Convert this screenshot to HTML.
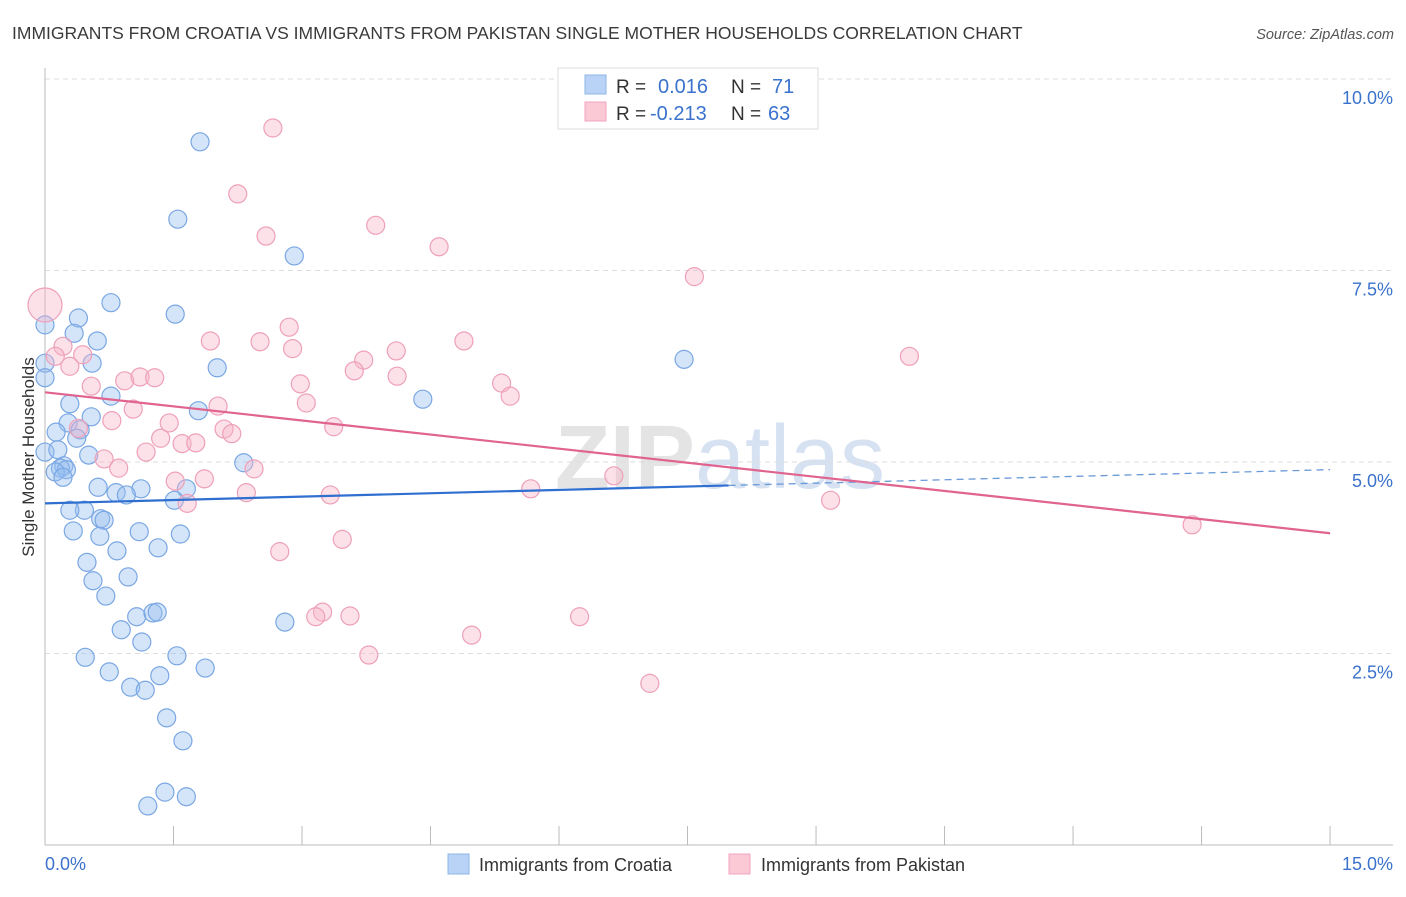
<!DOCTYPE html>
<html><head><meta charset="utf-8"><style>
html,body{margin:0;padding:0;background:#fff;}
body{width:1406px;height:892px;overflow:hidden;font-family:"Liberation Sans",sans-serif;}
</style></head><body>
<svg id="chart" width="1406" height="892" xmlns="http://www.w3.org/2000/svg" font-family="Liberation Sans, sans-serif">
<text x="12" y="39" font-size="17.5" fill="#3a3a3a">IMMIGRANTS FROM CROATIA VS IMMIGRANTS FROM PAKISTAN SINGLE MOTHER HOUSEHOLDS CORRELATION CHART</text>
<text x="1394" y="39" font-size="14.5" fill="#555" font-style="italic" text-anchor="end">Source: ZipAtlas.com</text>
<text x="720" y="488" font-size="90" fill="#e4e4e4" text-anchor="middle" font-weight="bold">ZIP<tspan fill="#d6e2f2" font-weight="normal">atlas</tspan></text>
<g id="grid"></g>
<g id="axes"></g>
<g id="marks"></g>
<g id="trends"></g>
<text transform="translate(34,457) rotate(-90)" font-size="17" fill="#333" text-anchor="middle">Single Mother Households</text>
<g>
<rect x="558" y="68" width="260" height="61" fill="#fff" stroke="#ddd"/>
<rect x="585" y="75" width="21" height="19" fill="#b8d3f5" stroke="#8fb4e8"/>
<rect x="585" y="102" width="21" height="19" fill="#fbc8d6" stroke="#f0a5bd"/>
<text x="616" y="93" font-size="19" fill="#333">R = </text><text x="658" y="93" font-size="20" fill="#3a72cc">0.016</text>
<text x="731" y="93" font-size="19" fill="#333">N = </text><text x="772" y="93" font-size="20" fill="#3a72cc">71</text>
<text x="616" y="120" font-size="19" fill="#333">R = </text><text x="650" y="120" font-size="20" fill="#3a72cc">-0.213</text>
<text x="731" y="120" font-size="19" fill="#333">N = </text><text x="768" y="120" font-size="20" fill="#3a72cc">63</text>
</g>
<g>
<rect x="448" y="854" width="21" height="20" fill="#b8d3f5" stroke="#8fb4e8"/>
<text x="479" y="871" font-size="18" fill="#333">Immigrants from Croatia</text>
<rect x="729" y="854" width="21" height="20" fill="#fbc8d6" stroke="#f0a5bd"/>
<text x="761" y="871" font-size="18" fill="#333">Immigrants from Pakistan</text>
</g>
</svg>
<script>
const blueX=[1.81,1.55,2.91,0.77,1.52,0.39,0,0.34,0.61,0.55,0,2.01,0,7.46,4.41,0.77,0.29,1.79,0.54,0.27,0.41,0.13,0.37,0,0.15,0.51,0.22,0.18,0.25,0.12,0.21,2.32,0.62,1.65,0.83,1.12,0.95,1.51,0.46,0.29,0.65,0.69,0.33,0.64,1.10,1.58,0.84,1.32,0.49,0.97,0.56,0.71,1.07,1.26,1.31,0.89,1.13,2.80,0.47,1.54,0.75,1.34,1.87,1.00,1.17,1.42,1.61,1.40,1.65,1.20];
const blueY=[9.18,8.17,7.69,7.08,6.93,6.88,6.79,6.68,6.58,6.29,6.29,6.23,6.10,6.34,5.82,5.86,5.76,5.67,5.59,5.51,5.42,5.39,5.31,5.13,5.16,5.09,4.95,4.92,4.90,4.87,4.80,4.99,4.67,4.65,4.60,4.65,4.57,4.50,4.37,4.37,4.26,4.24,4.10,4.03,4.09,4.06,3.84,3.88,3.69,3.50,3.45,3.25,2.98,3.03,3.04,2.81,2.65,2.91,2.45,2.47,2.26,2.21,2.31,2.06,2.02,1.66,1.36,0.69,0.63,0.51];
const pinkX=[2.66,2.25,2.58,3.86,4.60,7.58,0,2.85,1.93,2.51,0.21,2.89,4.10,4.89,0.44,0.12,0.29,10.09,3.72,3.61,2.98,0.54,0.93,1.11,1.28,5.33,4.11,5.43,3.05,2.02,1.03,0.78,1.45,0.39,3.37,2.09,2.18,1.35,1.60,1.76,1.18,0.69,0.86,2.44,1.52,1.86,1.66,2.35,3.33,5.67,6.64,9.17,13.39,2.74,3.47,3.24,3.16,3.56,6.24,4.98,3.78,7.06];
const pinkY=[9.36,8.50,7.95,8.09,7.81,7.42,7.05,6.76,6.58,6.57,6.51,6.48,6.45,6.58,6.40,6.38,6.25,6.38,6.33,6.19,6.02,5.99,6.06,6.11,6.10,6.03,6.12,5.86,5.77,5.73,5.69,5.54,5.51,5.44,5.46,5.43,5.37,5.31,5.24,5.25,5.13,5.04,4.92,4.91,4.75,4.78,4.46,4.60,4.57,4.65,4.82,4.50,4.18,3.83,3.99,3.04,2.98,2.99,2.98,2.74,2.48,2.11];
const pinkSize=[9,9,9,9,9,9,17,9,9,9,9,9,9,9,9,9,9,9,9,9,9,9,9,9,9,9,9,9,9,9,9,9,9,9,9,9,9,9,9,9,9,9,9,9,9,9,9,9,9,9,9,9,9,9,9,9,9,9,9,9,9,9];
const yTicks=[2.5,5.0,7.5,10.0];
const yTickLabels=["2.5%","5.0%","7.5%","10.0%"];
const xTicks=[0,1.5,3,4.5,6,7.5,9,10.5,12,13.5,15];
const blueTrend=[4.46,4.90]; // y at x=0 and x=15
const blueSolidEnd=7.98;
const pinkTrend=[5.91,4.07];

const NS="http://www.w3.org/2000/svg";
const X=v=>45+v*85.67, Y=v=>845-v*76.6;
function mk(tag,attrs,parent){const e=document.createElementNS(NS,tag);for(const k in attrs)e.setAttribute(k,attrs[k]);parent.appendChild(e);return e;}
const grid=document.getElementById('grid'),axes=document.getElementById('axes'),marks=document.getElementById('marks'),trends=document.getElementById('trends');
yTicks.forEach((t,i)=>{
  const l=mk('line',{x1:45,x2:1393,y1:Y(t),y2:Y(t),stroke:'#ddd','stroke-dasharray':'5,4'},grid);
  
  
  const tx=mk('text',{x:1393,y:Y(t)+25,'font-size':18,fill:'#3a72cc','text-anchor':'end'},axes);
  tx.textContent=yTickLabels[i];
  
  
});
const ax=mk('line',{x1:45,x2:1393,y1:845,y2:845,stroke:'#bbb'},axes);


const ay=mk('line',{x1:45,x2:45,y1:68,y2:845,stroke:'#bbb'},axes);


xTicks.forEach(t=>{if(t===0)return;
  const l=mk('line',{x1:X(t),x2:X(t),y1:826,y2:845,stroke:'#bbb'},axes);
  
  
});
const x0=mk('text',{x:45,y:870,'font-size':18,fill:'#3a72cc'},axes);x0.textContent='0.0%';


const x1=mk('text',{x:1393,y:870,'font-size':18,fill:'#3a72cc','text-anchor':'end'},axes);x1.textContent='15.0%';


blueX.forEach((v,i)=>{
  const c=mk('circle',{cx:X(v),cy:Y(blueY[i]),r:9,fill:'rgba(150,190,240,0.4)',stroke:'#7aa7e3','stroke-width':1.2},marks);
  
  
});
pinkX.forEach((v,i)=>{
  const c=mk('circle',{cx:X(v),cy:Y(pinkY[i]),r:pinkSize[i],fill:'rgba(248,180,200,0.4)',stroke:'#eea0b9','stroke-width':1.2},marks);
  
  
});
const by=x=>blueTrend[0]+(blueTrend[1]-blueTrend[0])*x/15;
const b1=mk('line',{x1:X(0),y1:Y(by(0)),x2:X(blueSolidEnd),y2:Y(by(blueSolidEnd)),stroke:'#2f6fd0','stroke-width':2.2},trends);


const b2=mk('line',{x1:X(blueSolidEnd),y1:Y(by(blueSolidEnd)),x2:X(15),y2:Y(by(15)),stroke:'#6a9ad8','stroke-width':1.3,'stroke-dasharray':'7,5'},trends);


const p1=mk('line',{x1:X(0),y1:Y(pinkTrend[0]),x2:X(15),y2:Y(pinkTrend[1]),stroke:'#e0648f','stroke-width':2.2},trends);


</script>
</body></html>
